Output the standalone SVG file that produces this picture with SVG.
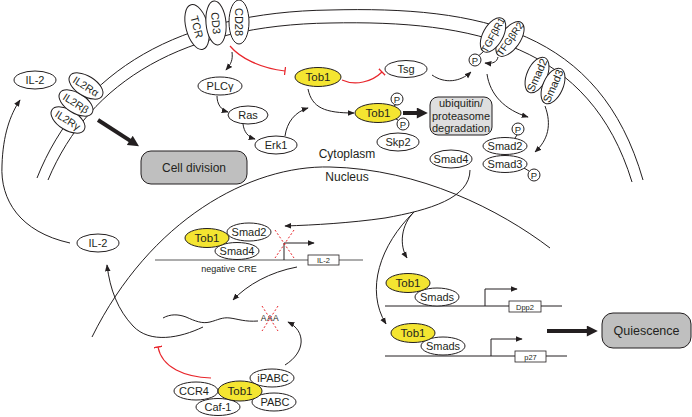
<svg xmlns="http://www.w3.org/2000/svg" width="692" height="417" viewBox="0 0 692 417">
<style>
.n{fill:#fff;stroke:#231f20;stroke-width:1}
.y{fill:#f4e531;stroke:#231f20;stroke-width:1}
.t{font-family:"Liberation Sans",Arial,sans-serif;font-size:11px;fill:#231f20;text-anchor:middle}
.c{fill:none;stroke:#231f20;stroke-width:1}
.r{fill:none;stroke:#e8262c;stroke-width:1.2}
.rx{fill:none;stroke:#e8262c;stroke-width:1;stroke-dasharray:2 2}
.th{fill:none;stroke:#231f20;stroke-width:4}
.box{fill:#fff;stroke:#231f20;stroke-width:0.8}
.g{fill:#bfbfbf;stroke:#231f20;stroke-width:1}
</style>
<defs>
<marker id="ah" viewBox="0 0 10 10" refX="9" refY="5" markerWidth="7" markerHeight="7" orient="auto" markerUnits="userSpaceOnUse"><path d="M0,1 L10,5 L0,9 z" fill="#231f20"/></marker>
<marker id="tah" viewBox="0 0 10 10" refX="2" refY="5" markerWidth="12" markerHeight="11" orient="auto" markerUnits="userSpaceOnUse"><path d="M0,0 L10,5 L0,10 z" fill="#231f20"/></marker>
<marker id="bar" viewBox="0 0 2 10" refX="1" refY="5" markerWidth="2" markerHeight="9" orient="auto" markerUnits="userSpaceOnUse"><path d="M1,0 L1,10" stroke="#e8262c" stroke-width="1.4"/></marker>
</defs>

<g id="membrane">
<path class="c" d="M37,178 C80,70 180,12 330,10 C480,6 600,30 643,180"/>
<path class="c" d="M48,180 C90,80 185,25 330,23 C475,20 590,45 632,182"/>
</g>
<g id="nuclear-envelope">
<path class="c" d="M92,337 C150,220 250,165 330,167 C420,169 500,210 550,248"/>
</g>

<g id="connectors">
<path class="c" d="M70,243 C20,232 0,200 2,165 C3,135 10,115 20,100" marker-end="url(#ah)"/>
<path class="th" d="M98,120 L131.6,141.6" marker-end="url(#tah)"/>
<path class="c" d="M232,52 C233,60 231,64 226,70" marker-end="url(#ah)"/>
<path class="c" d="M217,96 C217,104 221,110 228,112" marker-end="url(#ah)"/>
<path class="c" d="M243,124 C244,132 248,137 255,139" marker-end="url(#ah)"/>
<path class="c" d="M285,136 C287,122 295,112 308,108" marker-end="url(#ah)"/>
<path class="r" d="M230,46 C240,58 260,68 285,71" marker-end="url(#bar)"/>
<path class="r" d="M342,80 C355,86 372,82 382,72" marker-end="url(#bar)"/>
<path class="c" d="M308,89 C312,108 325,113 354,113" marker-end="url(#ah)"/>
<path class="th" d="M403,113 L419,113" marker-end="url(#tah)"/>
<path class="c" d="M432,75 C445,84 460,82 471,72" marker-end="url(#ah)"/>
<path class="c" d="M498,57 C497,62 493,64 485,63" marker-end="url(#ah)"/>
<path class="c" d="M487,74 C490,95 505,110 528,117" marker-end="url(#ah)"/>
<path class="c" d="M545,106 C552,125 548,140 535,152" marker-end="url(#ah)"/>
<path class="c" d="M470,170 C470,198 430,210 385,218 C350,223 315,225 285,226" marker-end="url(#ah)"/>
<path class="c" d="M414,212 C401,225 399,245 407,258" marker-end="url(#ah)"/>
<path class="c" d="M414,212 C380,245 365,290 386,324" marker-end="url(#ah)"/>
<path class="c" d="M297,267 C270,272 247,285 233,300" marker-end="url(#ah)"/>
<path class="c" d="M203,327 C180,338 150,344 133,326 C118,310 110,290 107,265" marker-end="url(#ah)"/>
<path class="r" d="M211,378 C185,377 162,368 158,347" marker-end="url(#bar)"/>
<path class="c" d="M285,365 C306,352 306,331 288,322" marker-end="url(#ah)"/>
<path class="th" d="M547,331 L589,331" marker-end="url(#tah)"/>
</g>

<g id="il2-top"><ellipse class="n" cx="35" cy="80" rx="21" ry="9"/><text class="t" x="35" y="84">IL-2</text></g>
<g id="il2rg" transform="translate(68,120) rotate(32)"><ellipse class="n" rx="19" ry="10"/><text class="t" y="4" style="font-size:10.5px">IL2Rγ</text></g>
<g id="il2rb" transform="translate(76,103) rotate(32)"><ellipse class="n" rx="19" ry="10"/><text class="t" y="4" style="font-size:10.5px">IL2Rβ</text></g>
<g id="il2ra" transform="translate(86,86) rotate(32)"><ellipse class="n" rx="19" ry="10"/><text class="t" y="4" style="font-size:10.5px">IL2Rα</text></g>

<g id="cell-division"><rect class="g" x="141" y="151" width="106" height="33" rx="10"/><text class="t" x="194" y="172" style="font-size:12px">Cell division</text></g>

<g id="tcr" transform="translate(197,27) rotate(-15)"><ellipse class="n" rx="11" ry="23"/><text class="t" transform="rotate(90)" y="4">TCR</text></g>
<g id="cd3" transform="translate(216,23) rotate(-5)"><ellipse class="n" rx="10" ry="22"/><text class="t" transform="rotate(90)" y="4">CD3</text></g>
<g id="cd28" transform="translate(239,22)"><ellipse class="n" rx="10" ry="22"/><text class="t" transform="rotate(90)" y="4">CD28</text></g>

<g id="plcg"><ellipse class="n" cx="220" cy="86" rx="22" ry="9"/><text class="t" x="220" y="90">PLCγ</text></g>
<g id="ras"><ellipse class="n" cx="248" cy="115" rx="20" ry="9"/><text class="t" x="248" y="119">Ras</text></g>
<g id="erk1"><ellipse class="n" cx="276" cy="145" rx="21" ry="9"/><text class="t" x="276" y="149">Erk1</text></g>

<g id="tob1-cyto"><ellipse class="y" cx="318" cy="77" rx="23" ry="9.5"/><text class="t" x="318" y="81" style="font-size:11.5px">Tob1</text></g>
<g id="tsg"><ellipse class="n" cx="406" cy="69" rx="21" ry="8.5"/><text class="t" x="406" y="73">Tsg</text></g>

<g id="tob1-p">
<line class="c" x1="394" y1="106" x2="396" y2="104.5"/>
<line class="c" x1="396" y1="119" x2="398" y2="120"/>
<ellipse class="y" cx="378" cy="113" rx="23" ry="9.5"/><text class="t" x="378" y="117" style="font-size:11.5px">Tob1</text>
<circle class="n" cx="397" cy="99" r="6"/><text class="t" x="397" y="102.5" style="font-size:9.5px">P</text>
<circle class="n" cx="403" cy="124" r="6"/><text class="t" x="403" y="127.5" style="font-size:9.5px">P</text>
</g>
<g id="skp2"><ellipse class="n" cx="398" cy="142" rx="21" ry="9"/><text class="t" x="398" y="146">Skp2</text></g>
<g id="ubiquitin"><rect x="430" y="97" width="62" height="38" rx="8" fill="#dedede" stroke="#231f20" stroke-width="1"/>
<text class="t" x="461" y="107">ubiquitin/</text><text class="t" x="461" y="119.5">proteasome</text><text class="t" x="461" y="132">degradation</text></g>

<g id="tgfbr2" transform="translate(510,39) rotate(-55)"><ellipse class="n" rx="20" ry="10"/><text class="t" y="3.5" style="font-size:10px">TFGβR2</text></g>
<g id="tgfbr1" transform="translate(493,35) rotate(-61)"><ellipse class="n" rx="19" ry="10"/><text class="t" y="3.5" style="font-size:10px">TGFβR1</text></g>
<g id="tgfbr-p"><line class="c" x1="479" y1="55.5" x2="483.5" y2="51.5"/><circle class="n" cx="475" cy="60" r="6"/><text class="t" x="475" y="63.5" style="font-size:9.5px">P</text></g>
<g id="smad2-mem" transform="translate(537,75) rotate(-66)"><ellipse class="n" rx="19" ry="10"/><text class="t" y="4">Smad2</text></g>
<g id="smad3-mem" transform="translate(553,86) rotate(-66)"><ellipse class="n" rx="19" ry="10"/><text class="t" y="4">Smad3</text></g>

<g id="smad4-cyto"><ellipse class="n" cx="451" cy="159" rx="21" ry="9"/><text class="t" x="451" y="163">Smad4</text></g>
<g id="smad23-p">
<line class="c" x1="515" y1="138" x2="517" y2="135"/>
<line class="c" x1="524" y1="168" x2="529" y2="171"/>
<ellipse class="n" cx="505" cy="146" rx="22" ry="8.5"/><text class="t" x="505" y="150">Smad2</text>
<ellipse class="n" cx="505" cy="164" rx="22" ry="8.5"/><text class="t" x="505" y="168">Smad3</text>
<circle class="n" cx="518" cy="129" r="6"/><text class="t" x="518" y="132.5" style="font-size:9.5px">P</text>
<circle class="n" cx="534" cy="175" r="6"/><text class="t" x="534" y="178.5" style="font-size:9.5px">P</text>
</g>

<g id="labels">
<text class="t" x="347" y="158" style="font-size:12px">Cytoplasm</text>
<text class="t" x="347" y="181" style="font-size:12px">Nucleus</text>
</g>

<g id="il2-low"><ellipse class="n" cx="98" cy="243" rx="21" ry="9"/><text class="t" x="98" y="247">IL-2</text></g>

<g id="il2-gene">
<line x1="155" y1="260" x2="363" y2="260" stroke="#5a5a5a" stroke-width="1.2"/>
<rect class="box" x="308" y="255" width="31" height="10"/><text class="t" x="323.5" y="263" style="font-size:7.5px">IL-2</text>
<path class="c" d="M284,260 V243 H314" marker-end="url(#ah)"/>
<path class="rx" d="M275,230 L294,258 M294,230 L275,258"/>
<text class="t" x="229" y="272" style="font-size:9px">negative CRE</text>
</g>
<g id="il2-complex">
<ellipse class="n" cx="249" cy="232" rx="22" ry="9"/><text class="t" x="249" y="236">Smad2</text>
<ellipse class="n" cx="237" cy="251" rx="22" ry="8.5"/><text class="t" x="237" y="255">Smad4</text>
<ellipse class="y" cx="207" cy="238" rx="22" ry="9.5"/><text class="t" x="207" y="242" style="font-size:11.5px">Tob1</text>
</g>

<g id="dpp2-gene">
<line x1="385" y1="306" x2="562" y2="306" stroke="#231f20" stroke-width="1"/>
<rect class="box" x="509" y="301" width="32" height="11"/><text class="t" x="525" y="309.5" style="font-size:7.5px">Dpp2</text>
<path class="c" d="M485,306 V289 H517" marker-end="url(#ah)"/>
<ellipse class="n" cx="437" cy="297" rx="22" ry="9"/><text class="t" x="437" y="301">Smads</text>
<ellipse class="y" cx="408" cy="283" rx="22" ry="9.5"/><text class="t" x="408" y="287" style="font-size:11.5px">Tob1</text>
</g>
<g id="p27-gene">
<line x1="385" y1="356" x2="567" y2="356" stroke="#231f20" stroke-width="1"/>
<rect class="box" x="515" y="351" width="31" height="11"/><text class="t" x="530.5" y="359.5" style="font-size:7.5px">p27</text>
<path class="c" d="M491,356 V339 H522" marker-end="url(#ah)"/>
<ellipse class="n" cx="443" cy="346" rx="22" ry="9"/><text class="t" x="443" y="350">Smads</text>
<ellipse class="y" cx="413" cy="333" rx="22" ry="9.5"/><text class="t" x="413" y="337" style="font-size:11.5px">Tob1</text>
</g>

<g id="quiescence"><rect class="g" x="602" y="313" width="89" height="35" rx="11"/><text class="t" x="646.5" y="335" style="font-size:12.5px">Quiescence</text></g>

<g id="mrna">
<path class="c" d="M163,318 C170,314 178,314 186,317 C195,321 202,324 210,322 C218,320 222,317 230,318 C238,319 245,322 258,321"/>
<text class="t" x="270" y="321" style="font-size:8.5px;letter-spacing:0.5px">AAA</text>
<path class="rx" d="M262,306 L278,331 M278,306 L262,331"/>
</g>

<g id="bottom-complex">
<ellipse class="n" cx="196" cy="391" rx="22" ry="9"/><text class="t" x="194" y="395">CCR4</text>
<ellipse class="n" cx="218" cy="407" rx="22" ry="8.5"/><text class="t" x="218" y="411">Caf-1</text>
<ellipse class="n" cx="272" cy="378" rx="22" ry="9"/><text class="t" x="273" y="382">iPABC</text>
<ellipse class="n" cx="274" cy="402" rx="22" ry="9"/><text class="t" x="275" y="406">PABC</text>
<ellipse class="y" cx="240" cy="391" rx="22" ry="10"/><text class="t" x="240" y="395" style="font-size:11.5px">Tob1</text>
</g>
</svg>
